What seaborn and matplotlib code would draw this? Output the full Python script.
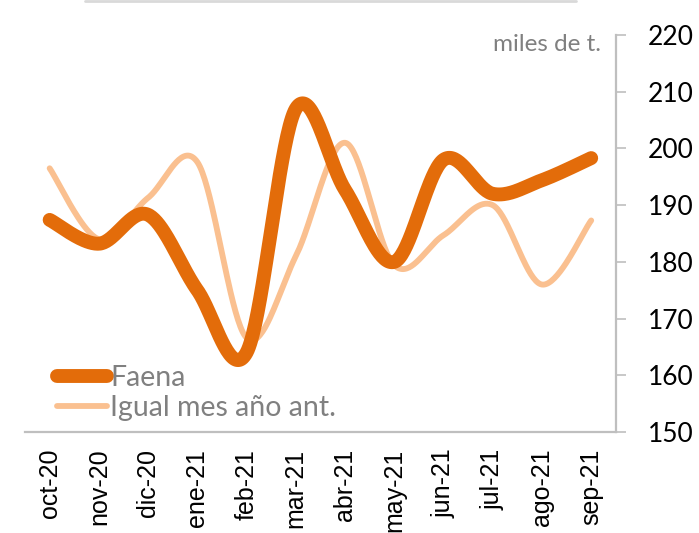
import numpy as np
import pandas as pd
import matplotlib
matplotlib.use("Agg")
import matplotlib.pyplot as plt
import seaborn as sns
from matplotlib.lines import Line2D

months = ["oct-20", "nov-20", "dic-20", "ene-21", "feb-21", "mar-21",
          "abr-21", "may-21", "jun-21", "jul-21", "ago-21", "sep-21"]
faena = [187.4, 183.2, 188.3, 175.0, 164.0, 207.0, 192.7, 180.0, 198.0, 192.0, 194.4, 198.3]
igual_mes = [196.5, 184.0, 191.3, 197.6, 166.6, 181.0, 201.0, 179.4, 184.7, 190.0, 176.0, 187.3]
y_ticks = [150, 160, 170, 180, 190, 200, 210, 220]

DARK = "#E36C0A"
LIGHT = "#FAC090"
GRAY = "#BFBFBF"
TXT_GRAY = "#808080"


def smooth(values, n=40):
    """Bezier smoothing through every point (tension 1/6)."""
    p = np.column_stack([np.arange(len(values), dtype=float), np.asarray(values, float)])
    xs, ys = [], []
    for i in range(len(p) - 1):
        p0 = p[i - 1] if i > 0 else p[i]
        p3 = p[i + 2] if i + 2 < len(p) else p[i + 1]
        c1 = p[i] + (p[i + 1] - p0) / 6.0
        c2 = p[i + 1] - (p3 - p[i]) / 6.0
        t = np.linspace(0, 1, n, endpoint=(i == len(p) - 2))[:, None]
        b = ((1 - t) ** 3) * p[i] + 3 * ((1 - t) ** 2) * t * c1 + 3 * (1 - t) * t ** 2 * c2 + t ** 3 * p[i + 1]
        xs.append(b[:, 0]); ys.append(b[:, 1])
    return np.concatenate(xs), np.concatenate(ys)


sns.set_theme(style="white")
plt.rcParams["font.family"] = ["Lato", "DejaVu Sans"]

fig = plt.figure(figsize=(6.99, 5.33), dpi=100)
ax = fig.add_axes([0.0358, 0.1895, 0.8452, 0.7448])

frames = []
for name, vals in [("Igual mes año ant.", igual_mes), ("Faena", faena)]:
    sx, sy = smooth(vals)
    frames.append(pd.DataFrame({"x": sx, "y": sy, "serie": name}))
curve = pd.concat(frames, ignore_index=True)

sns.lineplot(data=curve[curve.serie == "Igual mes año ant."], x="x", y="y", ax=ax,
             color=LIGHT, lw=4.2, sort=False, estimator=None, solid_capstyle="round")
sns.lineplot(data=curve[curve.serie == "Faena"], x="x", y="y", ax=ax,
             color=DARK, lw=10, sort=False, estimator=None, solid_capstyle="round")

ax.set_xlim(-0.5, len(months) - 0.5)
ax.set_ylim(150, 220)
ax.set_xlabel("")
ax.set_ylabel("")

# categories at centre, tick marks at boundaries
ax.set_xticks(np.arange(len(months)))
ax.set_xticklabels(months, rotation=90, fontsize=18, family="Liberation Sans", color="black")
ax.set_xticks(np.arange(len(months) + 1) - 0.5, minor=True)
ax.tick_params(axis="x", which="major", length=0, pad=12)
ax.tick_params(axis="x", which="minor", length=10, width=1.2, color=GRAY, direction="out")

ax.yaxis.tick_right()
ax.set_yticks(y_ticks)
ax.set_yticklabels([str(v) for v in y_ticks], fontsize=19, color="black")
ax.tick_params(axis="y", length=7, width=1.2, color=GRAY, direction="out", pad=16)

for side in ["top", "left"]:
    ax.spines[side].set_visible(False)
for side in ["right", "bottom"]:
    ax.spines[side].set_color(GRAY)
    ax.spines[side].set_linewidth(1.6)
ax.grid(False)

ax.text(0.975, 0.975, "miles de t.", transform=ax.transAxes, ha="right", va="center",
        fontsize=17.5, color=TXT_GRAY)

handles = [Line2D([0], [0], color=DARK, lw=10, solid_capstyle="round"),
           Line2D([0], [0], color=LIGHT, lw=4.2, solid_capstyle="round")]
ax.legend(handles, ["Faena", "Igual mes año ant."], loc="lower left",
          bbox_to_anchor=(0.035, 0.0), frameon=False, fontsize=20.5, labelcolor=TXT_GRAY,
          handlelength=1.75, handletextpad=0.12, labelspacing=0.12, borderaxespad=0)

fig.add_artist(Line2D([0.122, 0.824], [0.998, 0.998], transform=fig.transFigure,
                      color="#D9D9D9", lw=2))

fig.savefig("out.png", dpi=100)
